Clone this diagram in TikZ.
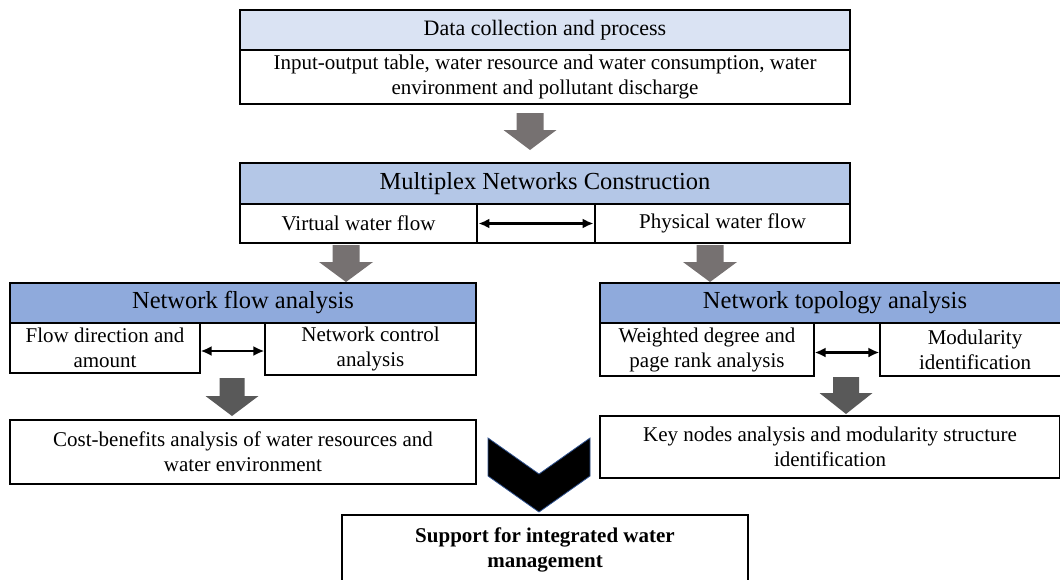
\documentclass[tikz,border=0pt]{standalone}
\usepackage{fontspec}
\setmainfont{Liberation Serif}
\usetikzlibrary{arrows.meta,calc}
\definecolor{hdA}{HTML}{DAE3F3}
\definecolor{hdB}{HTML}{B4C7E7}
\definecolor{hdC}{HTML}{8FAADC}
\definecolor{arrG}{HTML}{767171}
\definecolor{arrD}{HTML}{595959}
\definecolor{chevE}{HTML}{2F528F}
% color, cx, top, heady, tipy, shafthalf, headhalf
\newcommand\blkarrow[7]{%
  \fill[#1] (#2-#6,#3) -- (#2+#6,#3) -- (#2+#6,#4) -- (#2+#7,#4) -- (#2,#5) -- (#2-#7,#4) -- (#2-#6,#4) -- cycle;}
\tikzset{
  cell/.style={draw=black, line width=1.2pt, fill=white, inner sep=0pt, align=center,
    font=\fontsize{21}{25}\selectfont},
  headA/.style={cell, fill=hdA, font=\fontsize{22}{26}\selectfont},
  headB/.style={cell, fill=hdB, font=\fontsize{24.5}{28}\selectfont},
  headC/.style={cell, fill=hdC, font=\fontsize{24.5}{28}\selectfont},
  dbl/.style={{Latex[length=11pt,width=10pt]}-{Latex[length=11pt,width=10pt]}, line width=2.8pt, black},
}
\begin{document}
\begin{tikzpicture}[x=1pt,y=-1pt]
\useasboundingbox (0,0) rectangle (1060,579);
\clip (0,0) rectangle (1060,579);
% top block
\node[headA, minimum width=610, minimum height=40] (dhead) at (545,30) {Data collection and process};
\node[cell, minimum width=610, minimum height=54] (dbody) at (545,77)
  {Input-output table, water resource and water consumption, water\\ environment and pollutant discharge};
% multiplex block
\node[headB, minimum width=610, minimum height=41] (mhead) at (545,183.5) {Multiplex Networks Construction};
\node[cell, minimum width=237, minimum height=39] (mleft) at (358.5,223.5) {Virtual water flow};
\node[cell, minimum width=118, minimum height=39] (mmid) at (536,223.5) {};
\node[cell, minimum width=255, minimum height=39] (mright) at (722.5,223.5) {Physical water flow};
% network flow analysis
\node[headC, minimum width=466, minimum height=40] (fhead) at (243,303) {Network flow analysis};
\node[cell, minimum width=190, minimum height=50] (fleft) at (105,348) {Flow direction and\\ amount};
\node[cell, minimum width=211, minimum height=52] (fright) at (370.5,349) {Network control\\ analysis};
% network topology analysis
\node[headC, minimum width=470, minimum height=40] (thead) at (835,303) {Network topology analysis};
\node[cell, minimum width=214, minimum height=53] (tleft) at (707,349.5) {Weighted degree and\\ page rank analysis};
\node[cell, minimum width=190, minimum height=53] (tright) at (975,349.5) {Modularity\\ identification};
% results
\node[cell, minimum width=466, minimum height=64] (cbox) at (243,452)
  {Cost-benefits analysis of water resources and\\ water environment};
\node[cell, minimum width=460, minimum height=62] (kbox) at (830,447)
  {Key nodes analysis and modularity structure\\ identification};
\node[cell, minimum width=406, minimum height=70, font=\fontsize{21}{25}\selectfont\bfseries] (sbox) at (545,550)
  {Support for integrated water\\ management};
% double arrows
\draw[dbl, shorten <=2pt, shorten >=2pt] (mmid.west) -- (mmid.east);
\draw[dbl] ([yshift=-3pt]fleft.east) -- ([yshift=-3pt]fleft.east -| fright.west);
\draw[dbl] ([yshift=-3pt]tleft.east) -- ([yshift=-3pt]tleft.east -| tright.west);
% block arrows
\blkarrow{arrG}{530}{113}{130}{150}{13.5}{26.5}
\blkarrow{arrG}{346}{245}{262}{282}{13.5}{27}
\blkarrow{arrG}{710}{245}{262}{282}{13.5}{27}
\blkarrow{arrD}{232}{378}{396}{416}{12.5}{26.5}
\blkarrow{arrD}{846}{377}{393}{414}{13}{26.5}
% chevron
\filldraw[fill=black, draw=chevE, line width=0.8pt]
  (488,438) -- (539,474) -- (590,438) -- (590,476) -- (539,512) -- (488,476) -- cycle;
\end{tikzpicture}
\end{document}
